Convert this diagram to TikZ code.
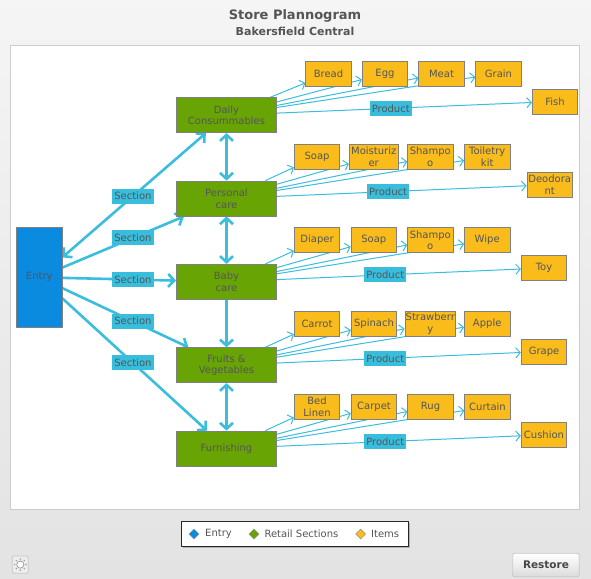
\documentclass[tikz,border=0pt]{standalone}
\usepackage{fontspec}
\setmainfont{DejaVu Sans}
\usetikzlibrary{arrows.meta,calc,shapes.geometric}
\definecolor{entryc}{HTML}{0A8BE0}
\definecolor{secc}{HTML}{68A504}
\definecolor{itemc}{HTML}{F9BC1B}
\definecolor{linec}{HTML}{3BBDDD}
\definecolor{labc}{HTML}{38BEDC}
\definecolor{txtc}{HTML}{555555}
\definecolor{bordc}{HTML}{808080}
\pgfdeclarelayer{back}
\pgfdeclarelayer{edges}
\pgfsetlayers{back,edges,main}
\begin{document}
\begin{tikzpicture}[x=1pt,y=-1pt,
  base/.style={draw=bordc, line width=0.8pt, text=txtc, font=\fontsize{10}{11.7}\selectfont, align=center, inner sep=0pt},
  entrybox/.style={base, fill=entryc, minimum width=45.3pt, minimum height=100pt},
  secbox/.style={base, fill=secc, minimum width=100.3pt, minimum height=35pt},
  itembox/.style={base, fill=itemc, minimum width=45.4pt, minimum height=25pt},
  lab/.style={fill=labc, text=txtc, font=\fontsize{10}{12}\selectfont, inner xsep=2.2pt, inner ysep=0pt, minimum height=15pt},
  sedge/.style={draw=linec, line width=2.6pt, -{Straight Barb[length=6pt,width=13pt]}},
  sboth/.style={draw=linec, line width=2.6pt, {Straight Barb[length=6pt,width=13pt]}-{Straight Barb[length=6pt,width=13pt]}},
  iedge/.style={draw=linec, line width=1pt, -{Straight Barb[length=4.5pt,width=10pt]}},
  legtext/.style={text=txtc, font=\fontsize{10}{12}\selectfont, anchor=west, inner sep=0pt},
  legdia/.style={diamond, draw=black!45, line width=0.5pt, minimum size=10pt, inner sep=0pt}
]
\useasboundingbox (0,0) rectangle (591,578);
\begin{pgfonlayer}{back}
  \shade[top color=black!4, bottom color=black!11] (0,0) rectangle (591,578);
  \draw[draw=black!20, fill=white, line width=0.8pt] (10,45) rectangle (579,509);
\end{pgfonlayer}

% titles
\node[text=txtc, font=\bfseries\fontsize{13}{15}\selectfont] (title) at (295,16) {Store Plannogram};
\node[text=txtc, font=\bfseries\fontsize{11}{12}\selectfont] (subtitle) at (295,31) {Bakersfield Central};

% entry and sections
\node[entrybox] (entry) at (39.3,277.3) {Entry};
\node[secbox] (dc) at (226.5,115.2) {Daily\\Consummables};
\node[secbox] (pc) at (226.5,198.5) {Personal\\care};
\node[secbox] (bc) at (226.5,281.8) {Baby\\care};
\node[secbox] (fv) at (226.5,365.2) {Fruits \&\\Vegetables};
\node[secbox] (fu) at (226.5,448.5) {Furnishing};

% items row 1
\node[itembox] (bread) at (328.5,73.5) {Bread};
\node[itembox] (egg) at (385,73.5) {Egg};
\node[itembox] (meat) at (441.5,73.5) {Meat};
\node[itembox] (grain) at (498.5,73.5) {Grain};
\node[itembox] (fish) at (555,101.5) {Fish};
% row 2
\node[itembox] (soap1) at (317,156.8) {Soap};
\node[itembox, minimum width=48.7pt] (moist) at (373.7,156.8) {Moisturiz\\er};
\node[itembox] (shamp1) at (430.3,156.8) {Shampo\\o};
\node[itembox] (toil) at (487.2,156.8) {Toiletry\\kit};
\node[itembox] (deo) at (549.7,184.8) {Deodora\\nt};
% row 3
\node[itembox] (diaper) at (317,240.2) {Diaper};
\node[itembox] (soap2) at (373.8,240.2) {Soap};
\node[itembox] (shamp2) at (430.3,240.2) {Shampo\\o};
\node[itembox] (wipe) at (487.2,240.2) {Wipe};
\node[itembox] (toy) at (544,268) {Toy};
% row 4
\node[itembox] (carrot) at (317,323.5) {Carrot};
\node[itembox] (spinach) at (374,323.5) {Spinach};
\node[itembox, minimum width=50.7pt] (straw) at (430.3,323.5) {Strawberr\\y};
\node[itembox] (apple) at (487.2,323.5) {Apple};
\node[itembox] (grape) at (544,351.5) {Grape};
% row 5
\node[itembox] (bed) at (317,406.8) {Bed\\Linen};
\node[itembox] (carpet) at (374,406.8) {Carpet};
\node[itembox] (rug) at (430.5,406.8) {Rug};
\node[itembox] (curtain) at (487.5,406.8) {Curtain};
\node[itembox] (cushion) at (544,434.8) {Cushion};

\begin{pgfonlayer}{edges}
  % entry to sections
  \draw[sboth] (entry) -- (dc);
  \draw[sedge] (entry) -- (pc);
  \draw[sedge] (entry) -- (bc);
  \draw[sedge] (entry) -- (fv);
  \draw[sedge] (entry) -- (fu);
  % between sections
  \draw[sboth] (dc) -- (pc);
  \draw[sboth] (pc) -- (bc);
  \draw[sedge] (bc) -- (fv);
  \draw[sboth] (fv) -- (fu);
  % items
  \foreach \s/\a/\b/\c/\d/\e in {dc/bread/egg/meat/grain/fish, pc/soap1/moist/shamp1/toil/deo, bc/diaper/soap2/shamp2/wipe/toy, fv/carrot/spinach/straw/apple/grape, fu/bed/carpet/rug/curtain/cushion}{
    \draw[iedge] (\s) -- (\a);
    \draw[iedge] (\s) -- (\b);
    \draw[iedge] (\s) -- (\c);
    \draw[iedge] (\s) -- (\d);
    \draw[iedge] (\s) -- (\e);
  }
\end{pgfonlayer}

% edge labels
\node[lab] (l1) at ($(entry)!0.5!(dc)$) {Section};
\node[lab] (l2) at ($(entry)!0.5!(pc)$) {Section};
\node[lab] (l3) at ($(entry)!0.5!(bc)$) {Section};
\node[lab] (l4) at ($(entry)!0.5!(fv)$) {Section};
\node[lab] (l5) at ($(entry)!0.5!(fu)$) {Section};
\node[lab] (p1) at ($(dc)!0.5!(fish)$) {Product};
\node[lab] (p2) at ($(pc)!0.5!(deo)$) {Product};
\node[lab] (p3) at ($(bc)!0.5!(toy)$) {Product};
\node[lab] (p4) at ($(fv)!0.5!(grape)$) {Product};
\node[lab] (p5) at ($(fu)!0.5!(cushion)$) {Product};

% legend
\fill[black!30] (183.2,523.2) rectangle (410.2,547.5);
\node[draw=black!85, fill=white, line width=0.8pt, minimum width=227pt, minimum height=24.3pt, inner sep=0pt] (legend) at (295.2,533.85) {};
\node[legdia, fill=entryc] (d1) at (194,534) {};
\node[legtext] (t1) at (205,533.5) {Entry};
\node[legdia, fill=secc] (d2) at (254,534) {};
\node[legtext] (t2) at (264.3,533.5) {Retail Sections};
\node[legdia, fill=itemc] (d3) at (360.7,534) {};
\node[legtext] (t3) at (371,533.5) {Items};

% restore button
\shade[top color=white, bottom color=black!14, rounded corners=2pt, draw=black!22, line width=0.8pt] (512.7,553.3) rectangle (579.3,576.7);
\node[text=black!72, font=\bfseries\fontsize{10.5}{12}\selectfont] (restore) at (546,565) {Restore};

% settings icon
\draw[fill=black!7, draw=black!22, line width=0.8pt, rounded corners=1.5pt] (12.3,556) rectangle (28.3,573.3);
\draw[fill=white, draw=black!40, line width=0.7pt] (20.3,564.6) circle (3.6pt);
\foreach \ang in {0,45,...,315}{
  \fill[black!40] ($(20.3,564.6)+(\ang:5.6pt)$) circle (0.8pt);
}
\end{tikzpicture}
\end{document}
